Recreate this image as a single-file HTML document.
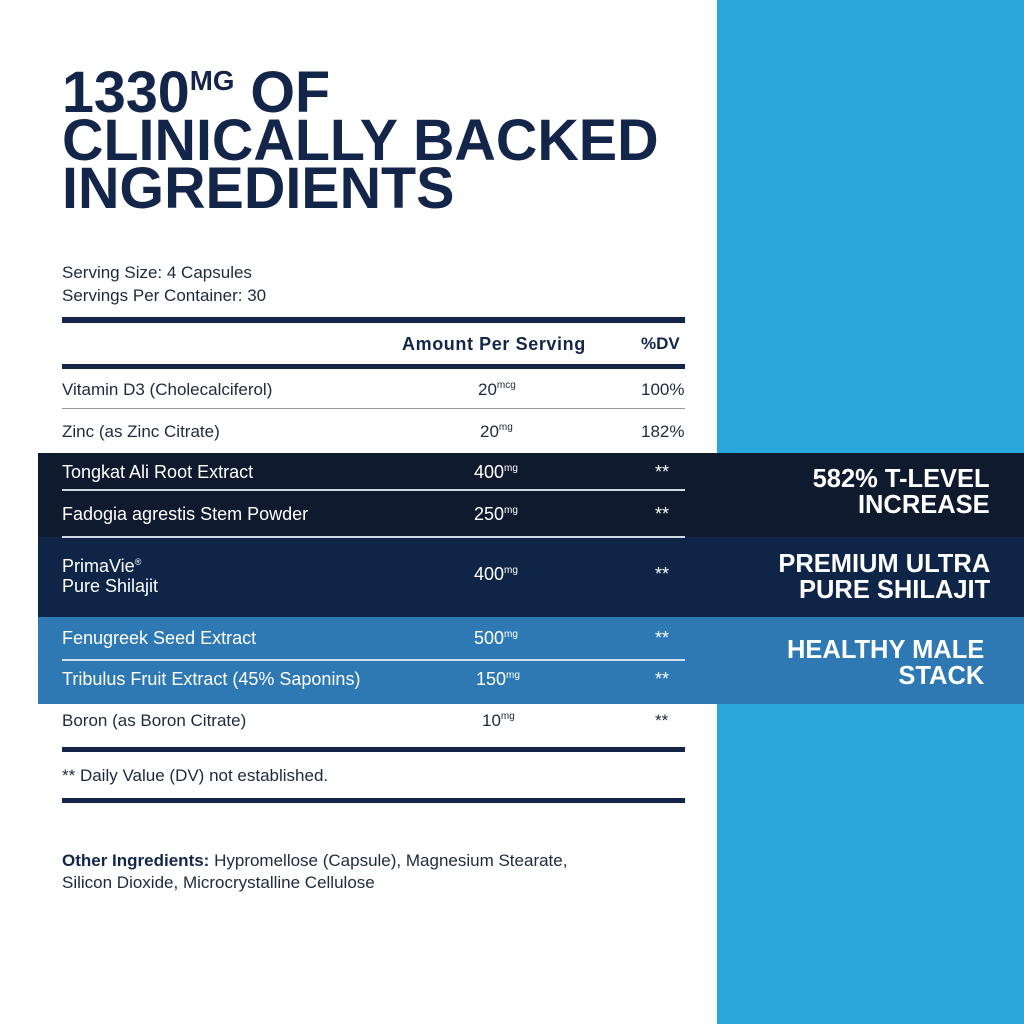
<!DOCTYPE html>
<html><head><style>
body{margin:0;width:1024px;height:1024px;position:relative;overflow:hidden;background:#fff;font-family:"Liberation Sans",sans-serif;color:#1d2a3e}
.a{position:absolute;white-space:nowrap}
.t{font-weight:bold;color:#13264a;font-size:58px;line-height:50px;transform-origin:0 0}
.r{position:absolute;left:62px;width:623px;background:#13264a}
.s{font-size:17px}
.w{color:#fff;font-size:18px}
sup{font-size:10px;vertical-align:7px}
.bd{font-weight:bold;color:#fff;font-size:26px;text-align:right;line-height:26px;transform-origin:100% 0;transform:scaleX(0.98)}
</style></head><body>
<div class="a" style="left:717px;top:0;width:307px;height:1024px;background:#29a8dd"></div>
<div class="a t" style="left:62px;top:68px;transform:scaleX(0.99)">1330<span style="font-size:28px;vertical-align:22px;line-height:0">MG</span> OF</div>
<div class="a t" style="left:62px;top:116px;transform:scaleX(0.99)">CLINICALLY BACKED</div>
<div class="a t" style="left:62px;top:164px;transform:scaleX(0.99)">INGREDIENTS</div>
<div class="a s" style="left:62px;top:263px">Serving Size: 4 Capsules</div>
<div class="a s" style="left:62px;top:286px">Servings Per Container: 30</div>
<div class="r" style="top:317px;height:6px"></div>
<div class="a s" style="left:402px;top:334px;font-weight:bold;color:#13264a;letter-spacing:0.6px;font-size:18px">Amount Per Serving</div>
<div class="a s" style="left:641px;top:334px;font-weight:bold;color:#13264a">%DV</div>
<div class="r" style="top:364px;height:5px"></div>
<div class="a s" style="left:62px;top:380px">Vitamin D3 (Cholecalciferol)</div>
<div class="a s" style="left:478px;top:380px">20<sup>mcg</sup></div>
<div class="a s" style="left:641px;top:380px">100%</div>
<div class="r" style="top:408px;height:1px;background:#999"></div>
<div class="a s" style="left:62px;top:422px">Zinc (as Zinc Citrate)</div>
<div class="a s" style="left:480px;top:422px">20<sup>mg</sup></div>
<div class="a s" style="left:641px;top:422px">182%</div>
<div class="a" style="left:38px;top:453px;width:986px;height:84px;background:#0f1a2e"></div>
<div class="a" style="left:38px;top:537px;width:986px;height:80px;background:#0f2547"></div>
<div class="a" style="left:38px;top:617px;width:986px;height:87px;background:#2e78b3"></div>
<div class="a" style="left:62px;top:489px;width:623px;height:2px;background:#cfd8e3"></div>
<div class="a" style="left:62px;top:536px;width:623px;height:2px;background:#cfd8e3"></div>
<div class="a" style="left:62px;top:659px;width:623px;height:2px;background:#cfe0ef"></div>
<div class="a w" style="left:62px;top:462px">Tongkat Ali Root Extract</div>
<div class="a w" style="left:474px;top:462px">400<sup>mg</sup></div>
<div class="a w" style="left:655px;top:462px">**</div>
<div class="a w" style="left:62px;top:504px">Fadogia agrestis Stem Powder</div>
<div class="a w" style="left:474px;top:504px">250<sup>mg</sup></div>
<div class="a w" style="left:655px;top:504px">**</div>
<div class="a w" style="left:62px;top:552px;line-height:20px">PrimaVie<sup style="font-size:9px">®</sup><br>Pure Shilajit</div>
<div class="a w" style="left:474px;top:564px">400<sup>mg</sup></div>
<div class="a w" style="left:655px;top:564px">**</div>
<div class="a w" style="left:62px;top:628px">Fenugreek Seed Extract</div>
<div class="a w" style="left:474px;top:628px">500<sup>mg</sup></div>
<div class="a w" style="left:655px;top:628px">**</div>
<div class="a w" style="left:62px;top:669px">Tribulus Fruit Extract (45% Saponins)</div>
<div class="a w" style="left:476px;top:669px">150<sup>mg</sup></div>
<div class="a w" style="left:655px;top:669px">**</div>
<div class="a bd" style="right:34px;top:465px">582% T-LEVEL<br>INCREASE</div>
<div class="a bd" style="right:34px;top:550px">PREMIUM ULTRA<br>PURE SHILAJIT</div>
<div class="a bd" style="right:40px;top:636px">HEALTHY MALE<br>STACK</div>
<div class="a s" style="left:62px;top:711px">Boron (as Boron Citrate)</div>
<div class="a s" style="left:482px;top:711px">10<sup>mg</sup></div>
<div class="a s" style="left:655px;top:711px">**</div>
<div class="r" style="top:747px;height:5px"></div>
<div class="a s" style="left:62px;top:766px">** Daily Value (DV) not established.</div>
<div class="r" style="top:798px;height:5px"></div>
<div class="a s" style="left:62px;top:850px;line-height:22px"><b style="color:#13264a">Other Ingredients:</b> Hypromellose (Capsule), Magnesium Stearate,<br>Silicon Dioxide, Microcrystalline Cellulose</div>
</body></html>
